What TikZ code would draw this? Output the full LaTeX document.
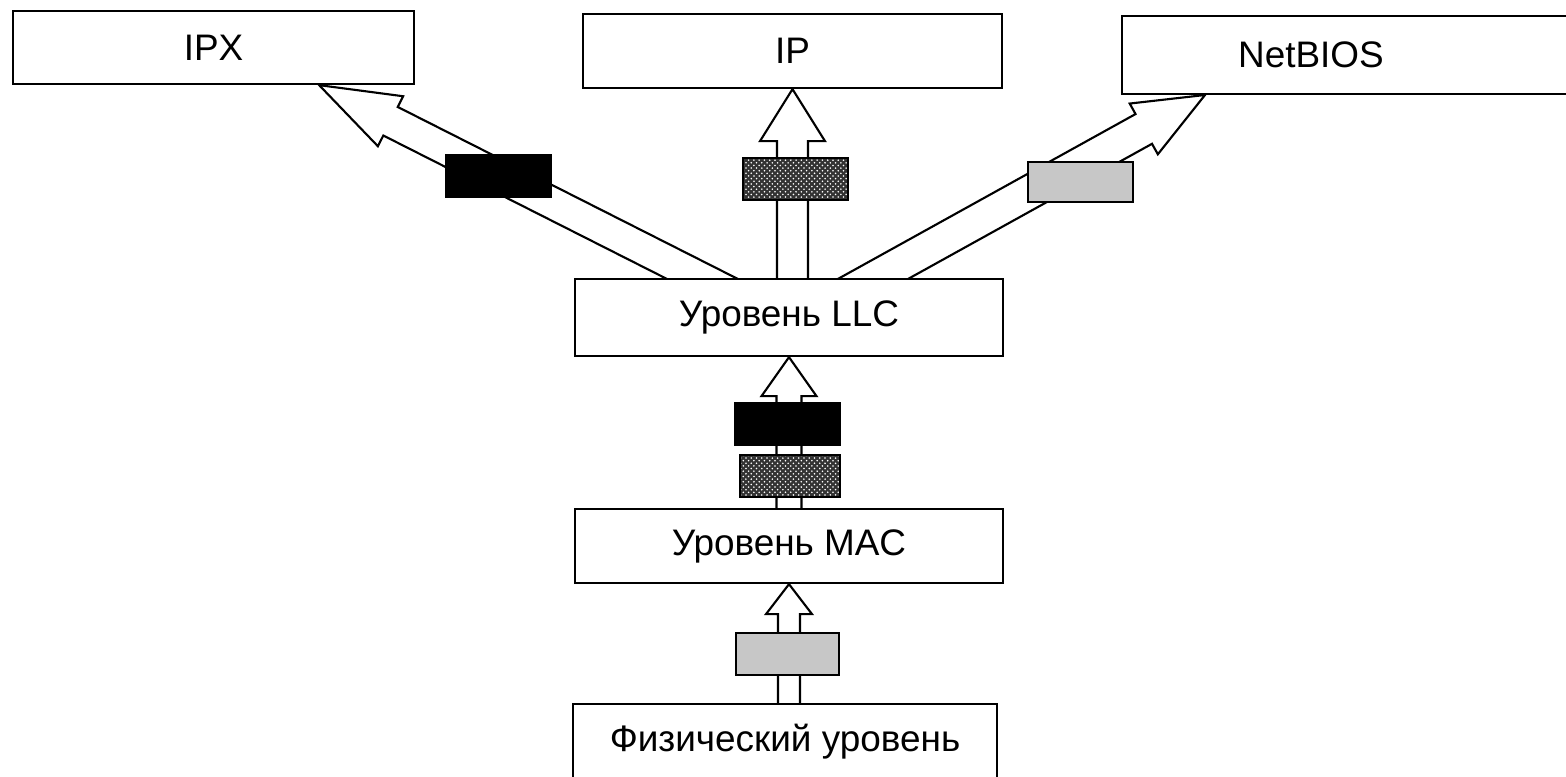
\documentclass[tikz,border=0pt]{standalone}
\usepackage{fontspec}
\setmainfont{Liberation Sans}
\usetikzlibrary{backgrounds,calc,patterns}

% hollow block arrow: #1 start, #2 tip, #3 half shaft, #4 half head, #5 head length
\newcommand\fatarrow[5]{%
  \coordinate (hb) at ($(#2)!#5!(#1)$);
  \draw[pipe] ($(#1)!#3!90:(#2)$) -- ($(hb)!#3!-90:(#1)$) -- ($(hb)!#4!-90:(#1)$)
    -- (#2) -- ($(hb)!#4!90:(#1)$) -- ($(hb)!#3!90:(#1)$) -- ($(#1)!#3!-90:(#2)$);
}

\begin{document}
\begin{tikzpicture}[
  layer/.style={draw,line width=1.3pt,fill=white,inner sep=0pt,font=\fontsize{21}{25}\selectfont},
  pipe/.style={line width=1.2pt,line join=miter},
  tag/.style={draw,line width=1pt,minimum width=2.1cm,minimum height=0.84cm,inner sep=0pt},
  tagblk/.style={tag,fill=black},
  tagtex/.style={tag,preaction={fill=black!80},pattern=crosshatch dots,pattern color=white},
  taggry/.style={tag,fill=black!22}
]
  \clip (0,0) rectangle (31.32,-15.54);
  % protocols
  \node[layer,minimum width=8.02cm,minimum height=1.46cm] (ipx) at (4.27,-0.95) {IPX};
  \node[layer,minimum width=8.38cm,minimum height=1.48cm] (ip)  at (15.85,-1.02) {IP};
  \node[layer,anchor=south west,minimum height=1.56cm,text width=5.5cm,align=left,
        inner xsep=2.32cm] (nb) at (22.42,-1.90) {NetBIOS};
  % levels
  \node[layer,minimum width=8.56cm,minimum height=1.54cm] (llc) at (15.78,-6.35) {Уровень LLC};
  \node[layer,minimum width=8.56cm,minimum height=1.48cm] (mac) at (15.78,-10.92) {Уровень MAC};
  \node[layer,anchor=north,minimum width=8.48cm,inner ysep=0.42cm,text height=0.53cm,
        text depth=1.0cm] (phys) at (15.70,-14.06) {Физический уровень};
  \begin{scope}[on background layer]
    \coordinate (s1) at (14.88,-6.00);
    \coordinate (t1) at ($(ipx.south east)+(-1.92,0)$);
    \coordinate (s2) at (ip.south |- llc.center);
    \coordinate (s3) at (16.70,-6.00);
    \coordinate (t3) at ($(nb.south west)+(1.68,0)$);
    \coordinate (s5) at (mac.south |- phys.center);
    \fatarrow{s1}{t1}{0.32cm}{0.56cm}{1.6cm}
    \fatarrow{s2}{ip.south}{0.31cm}{0.65cm}{1.04cm}
    \fatarrow{s3}{t3}{0.34cm}{0.58cm}{1.4cm}
    \fatarrow{mac.center}{llc.south}{0.25cm}{0.55cm}{0.78cm}
    \fatarrow{s5}{mac.south}{0.22cm}{0.46cm}{0.60cm}
  \end{scope}
  % frame tags
  \node[tagblk] (k1) at (9.97,-3.52) {};
  \node[tagtex] (k2) at (15.91,-3.58) {};
  \node[taggry,minimum height=0.80cm] (k3) at (21.61,-3.64) {};
  \node[tagblk] (k4) at (15.75,-8.48) {};
  \node[tagtex,minimum width=2.0cm] (k5) at (15.80,-9.52) {};
  \node[taggry,minimum width=2.06cm] (k6) at (15.75,-13.08) {};
\end{tikzpicture}
\end{document}
